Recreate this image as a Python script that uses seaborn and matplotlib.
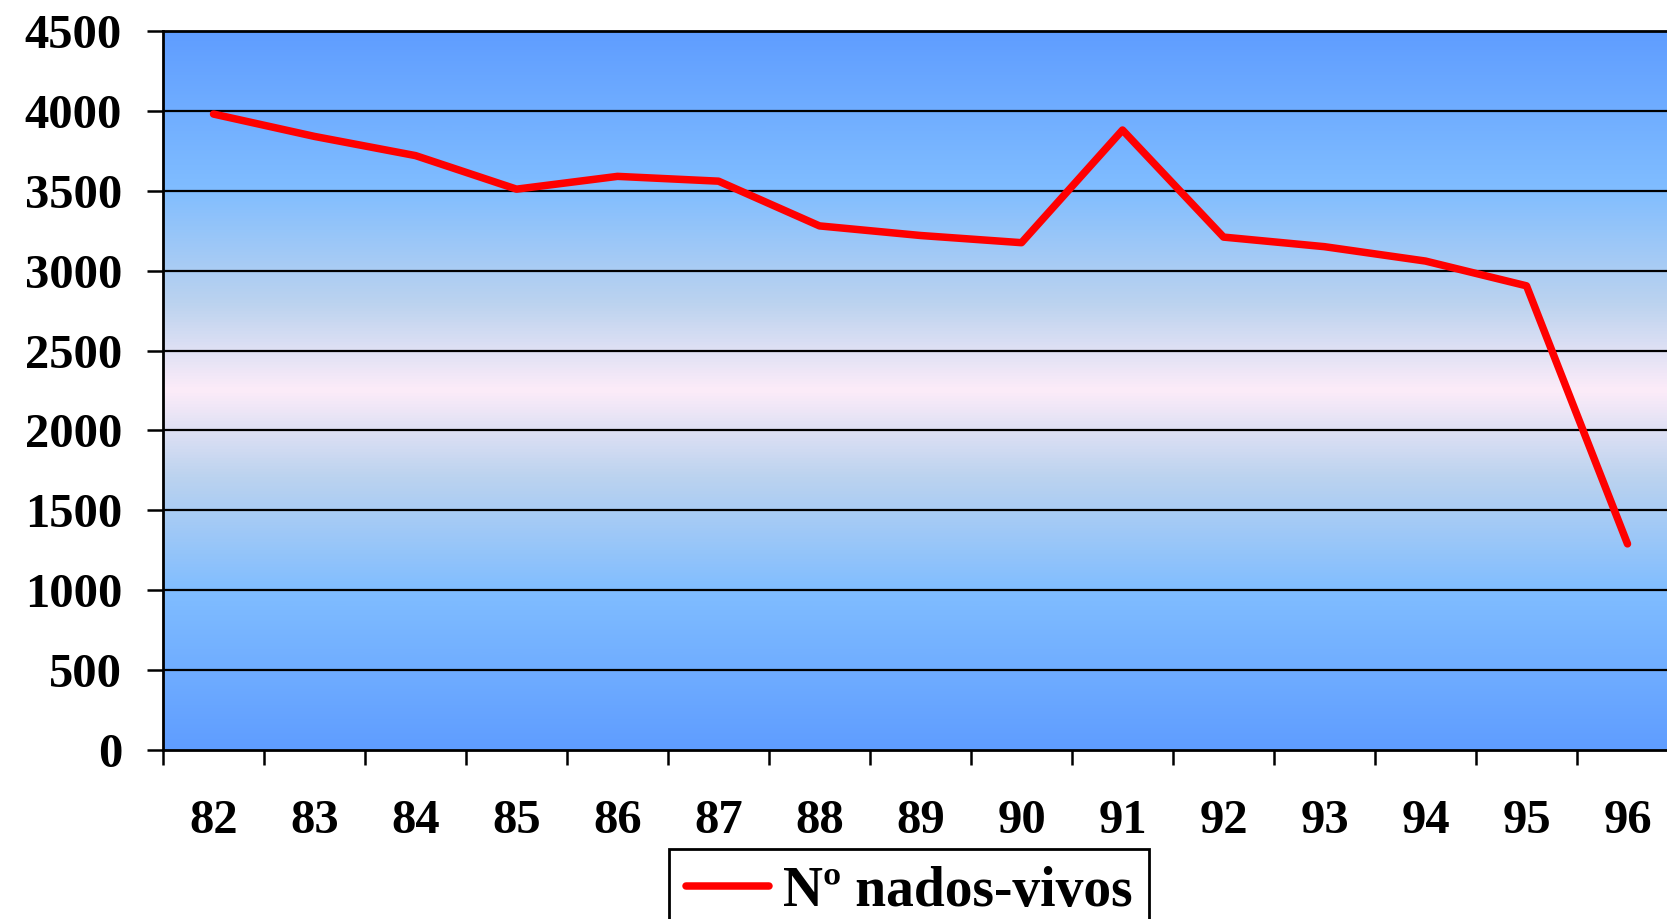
import numpy as np
import pandas as pd
import matplotlib
matplotlib.use("Agg")
import matplotlib.pyplot as plt
from matplotlib.colors import LinearSegmentedColormap
from matplotlib.ticker import FixedLocator, MultipleLocator
import seaborn as sns

# Live births per year
years = ["82", "83", "84", "85", "86", "87", "88", "89",
         "90", "91", "92", "93", "94", "95", "96"]
births = [3980, 3840, 3720, 3510, 3590, 3560, 3280, 3220,
          3175, 3880, 3210, 3150, 3060, 2905, 1290]
series_name = "Nº nados-vivos"

df = pd.DataFrame({"ano": years, "nados": births})

sns.set_theme(style="white")
plt.rcParams["font.family"] = ["Liberation Serif", "DejaVu Serif"]
plt.rcParams["font.weight"] = "bold"
plt.rcParams["text.color"] = "black"
plt.rcParams["xtick.color"] = "black"
plt.rcParams["ytick.color"] = "black"

fig = plt.figure(figsize=(16.67, 9.19), dpi=100)
ax = fig.add_axes([0.0978, 0.1839, 0.9088, 0.7824])

n = len(years)

# Blue-pink-blue vertical gradient for the plotting area
grad_cmap = LinearSegmentedColormap.from_list(
    "bg",
    [(0.00, "#5f9dff"), (0.22, "#80bdff"), (0.38, "#bcd3ef"),
     (0.50, "#fdecf9"), (0.62, "#bcd3ef"), (0.78, "#80bdff"),
     (1.00, "#5f9dff")],
)
grad = np.linspace(0, 1, 512).reshape(-1, 1)
ax.imshow(grad, cmap=grad_cmap, aspect="auto",
          extent=(-0.5, n - 0.5, 0, 4500), origin="lower", zorder=0)

# Horizontal grid lines
for yv in np.arange(500, 4500, 500):
    ax.axhline(yv, color="black", lw=1.6, zorder=1)

sns.lineplot(data=df, x="ano", y="nados", color="#ff0000", lw=5.4,
             ax=ax, label=series_name, zorder=3, sort=False)
ax.set_xlim(-0.5, n - 0.5)
ax.set_ylim(0, 4500)
ax.yaxis.set_major_locator(MultipleLocator(500))

ax.set_xlabel("")
ax.set_ylabel("")

# Spines
for side in ["left", "top", "bottom"]:
    ax.spines[side].set_visible(True)
    ax.spines[side].set_color("black")
    ax.spines[side].set_linewidth(2.0)
    ax.spines[side].set_zorder(4)
ax.spines["right"].set_visible(False)

# Ticks: labels centred on each year, tick marks between years
ax.set_xticks(np.arange(n))
ax.set_xticklabels(years)
ax.xaxis.set_minor_locator(FixedLocator(np.arange(n + 1) - 0.5))
ax.tick_params(axis="x", which="major", length=0, pad=35,
               labelsize=35)
ax.tick_params(axis="x", which="minor", length=11, width=1.8,
               color="black", direction="out", bottom=True)
ax.tick_params(axis="y", which="major", length=11.5, width=1.8,
               color="black", direction="out", left=True, pad=18,
               labelsize=35)
for lab in ax.get_xticklabels() + ax.get_yticklabels():
    lab.set_fontweight("bold")
    lab.set_color("black")

# Legend below the axes
ax.legend_.remove()
handles, labels = ax.get_legend_handles_labels()
leg = fig.legend(handles, labels, loc="upper left",
                 bbox_to_anchor=(669 / 1667, 1 - 849 / 919),
                 prop={"family": "Liberation Serif", "weight": "bold",
                       "size": 40},
                 frameon=True, fancybox=False, edgecolor="black",
                 framealpha=1.0, handlelength=1.5, handletextpad=0.25,
                 borderpad=0.3, borderaxespad=0, labelcolor="black")
leg.get_frame().set_linewidth(2.0)

fig.savefig("out.png", dpi=100)
